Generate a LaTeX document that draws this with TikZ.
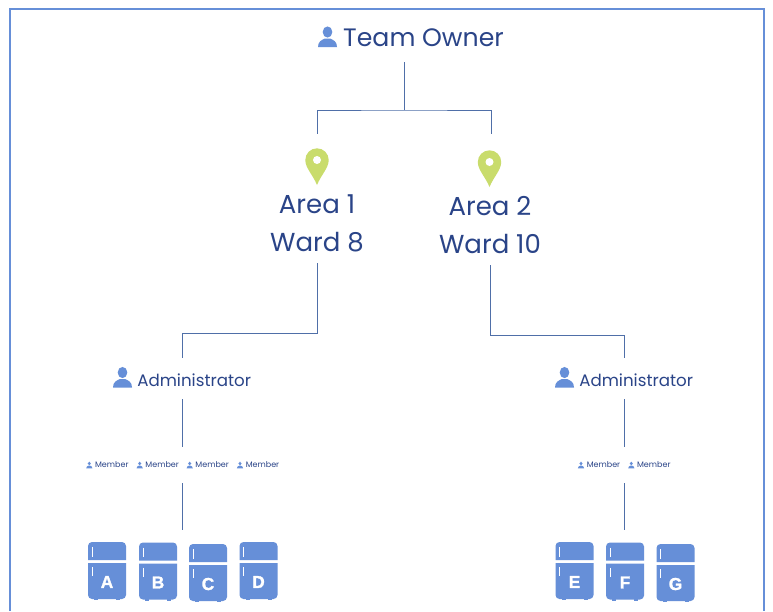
\documentclass[tikz,border=0pt]{standalone}
\usepackage{fontspec}
\setmainfont{Poppins}
\newfontfamily\fridgefont[FakeBold=1.5]{Liberation Sans}
\definecolor{navytext}{HTML}{2A4488}
\definecolor{iconblue}{HTML}{668FD8}
\definecolor{linkblue}{HTML}{4F6FA8}
\definecolor{pingreen}{HTML}{C9DC6C}
\tikzset{
  every pic/.style={yscale=-1},
  framebox/.style={draw=iconblue,line width=0.8pt},
  link/.style={draw=linkblue,line width=0.6pt},
  ownertext/.style={text=navytext,font=\fontsize{18.9}{24}\selectfont,inner sep=0pt,minimum height=36pt},
  areatext/.style={text=navytext,font=\fontsize{19.5}{28.5}\selectfont,inner sep=0pt,align=center,minimum height=60pt},
  admintext/.style={text=navytext,font=\fontsize{12.5}{15}\selectfont,inner sep=0pt,text width=103.5pt,text height=12.2pt,text depth=0pt,align=right,minimum height=30.75pt},
  membertext/.style={text=navytext,font=\fontsize{6}{8}\selectfont,inner sep=0pt,minimum height=27pt},
  pinslot/.style={inner sep=0pt,minimum size=48pt},
  fridgeletter/.style={text=white,font=\fridgefont\bfseries\fontsize{13}{14}\selectfont,inner sep=0pt},
  person/.pic={
    \fill[iconblue] (0,-4.5) ellipse [x radius=4.8,y radius=5.6];
    \fill[iconblue] (-9.5,10.5) .. controls (-9.5,5) and (-6,3.5) .. (-2.5,2) -- (2.5,2) .. controls (6,3.5) and (9.5,5) .. (9.5,10.5) -- cycle;
  },
  locpin/.pic={
    \fill[pingreen] (0,25) .. controls (-4,15) and (-11.7,8) .. (-11.7,0) arc [start angle=180,end angle=360,radius=11.7] .. controls (11.7,8) and (4,15) .. (0,25) -- cycle;
    \fill[white] (0,0) circle (4);
  },
  fridge/.pic={
    \fill[iconblue] (-19,-10.5) [rounded corners=3pt] -- (-19,-28.5) -- (19,-28.5) [sharp corners] -- (19,-10.5) -- cycle;
    \fill[iconblue] (-19,-7.5) -- (19,-7.5) [rounded corners=3pt] -- (19,28.5) -- (-19,28.5) [sharp corners] -- cycle;
    \fill[iconblue] (-13,28) rectangle (-9,29.5);
    \fill[iconblue] (9,28) rectangle (13,29.5);
    \draw[white,line width=0.6pt] (-15,-23.5) -- (-15,-14);
    \draw[white,line width=0.6pt] (-15,-3.5) -- (-15,5.5);
    \node[fridgeletter] (-letter) at (0,11.5) {#1};
  }
}

\begin{document}
\begin{tikzpicture}[x=0.75pt,y=0.75pt,yscale=-1,xscale=1]
\useasboundingbox[fill=white] (0,0) rectangle (773,611);

% Frame
\draw[framebox] (10,611) -- (10,9) -- (764,9) -- (764,611);

% Text Node
\node[ownertext] (owner) at (423.5,38) {Team Owner};
\pic at (327.5,36.5) {person};
\node[pinslot] (pin1) at (317,166) {};
\node[pinslot] (pin2) at (491,166) {};
\pic at (317,160) {locpin};
\pic at (489.5,162) {locpin};
\node[areatext] (area1) at (317,223) {Area 1\\Ward 8};
\node[areatext] (area2) at (490,225) {Area 2\\Ward 10};
\node[admintext] (admin1) at (182,378.5) {Administrator};
\node[admintext] (admin2) at (624,378.5) {Administrator};
\pic at (122.5,377) {person};
\pic at (564.5,377) {person};

% Members
\foreach \i/\xpos in {1/89.3,2/139.7,3/189.7,4/240,5/581,6/631.3} {
  \node[membertext] (member\i) at (\xpos+22.5,465) {Member};
  \pic[scale=0.33] at (\xpos,465) {person};
}

% Fridges
\foreach \name/\xpos/\ypos in {A/107/570.5,B/158/571,C/208/572.5,D/258.5/570.5,E/574.5/570.5,F/625/571,G/675.5/572.5} {
  \pic (fridge\name) at (\xpos,\ypos) {fridge=\name};
}

% Connectors
\coordinate (split) at (404,110);
\coordinate (bend1) at (250,333);
\coordinate (bend2) at (550,335);
\coordinate (rack1) at (182,530);
\coordinate (rack2) at (624.5,530);
\draw[link] (owner.south -| split) -- (split);
\draw[link] (pin1.north) |- (split) -| (pin2.north);
\draw[link] (area1.south) -- (area1.south |- bend1) -- (admin1.north |- bend1) -- (admin1.north);
\draw[link] (area2.south) -- (area2.south |- bend2) -- (admin2.north |- bend2) -- (admin2.north);
\draw[link] (admin1.south) -- (admin1.south |- member2.north);
\draw[link] (admin2.south) -- (admin2.south |- member5.north);
\draw[link] (rack1 |- member3.south) -- (rack1);
\draw[link] (rack2 |- member6.south) -- (rack2);

\end{tikzpicture}
\end{document}
